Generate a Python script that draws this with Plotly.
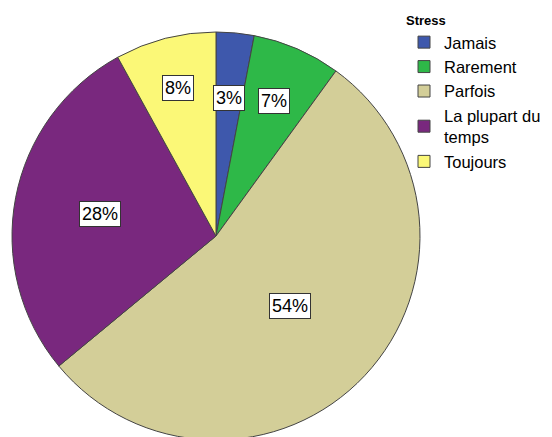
import math
import plotly.graph_objects as go

categories = ["Jamais", "Rarement", "Parfois", "La plupart du<br>temps", "Toujours"]
values = [3, 7, 54, 28, 8]
labels_txt = ["3%", "7%", "54%", "28%", "8%"]
colors = ["#3E58AC", "#2EB848", "#D3CE98", "#79287E", "#FBF877"]
label_r = [0.68, 0.72, 0.50, 0.58, 0.75]

# page body has an 8px margin; figure coords = page coords - 8
W, H = 544, 440
cx, cy, R = 208, 228, 204

fig = go.Figure(go.Pie(
    labels=categories, values=values, sort=False, direction="clockwise", rotation=0,
    marker=dict(colors=colors, line=dict(color="#444444", width=1)),
    textinfo="none", hoverinfo="label+percent",
    domain=dict(x=[(cx - R) / W, (cx + R) / W], y=[1 - (cy + R) / H, 1 - (cy - R) / H]),
))

total = sum(values)
cum = 0
for v, t, rf in zip(values, labels_txt, label_r):
    mid = (cum + v / 2) / total * 2 * math.pi
    cum += v
    px = cx + rf * R * math.sin(mid)
    py = cy - rf * R * math.cos(mid)
    fig.add_annotation(x=px / W, y=1 - py / H, xref="paper", yref="paper",
                       xanchor="center", yanchor="middle",
                       text=t, showarrow=False, bgcolor="white",
                       bordercolor="#333333", borderwidth=1, borderpad=2,
                       font=dict(size=18, color="black", family="Liberation Sans, Arial"))

fig.update_layout(
    width=W, height=H, margin=dict(l=0, r=0, t=0, b=0),
    paper_bgcolor="white", plot_bgcolor="white",
    font=dict(family="Liberation Sans, Arial", color="black"),
    legend=dict(x=396 / W, y=1.0, xanchor="left", yanchor="top",
                title=dict(text="<b>Stress</b>", font=dict(size=13)),
                font=dict(size=16.5), itemwidth=30, tracegroupgap=0,
                bgcolor="rgba(0,0,0,0)"),
)

fig.write_html("out.html")
